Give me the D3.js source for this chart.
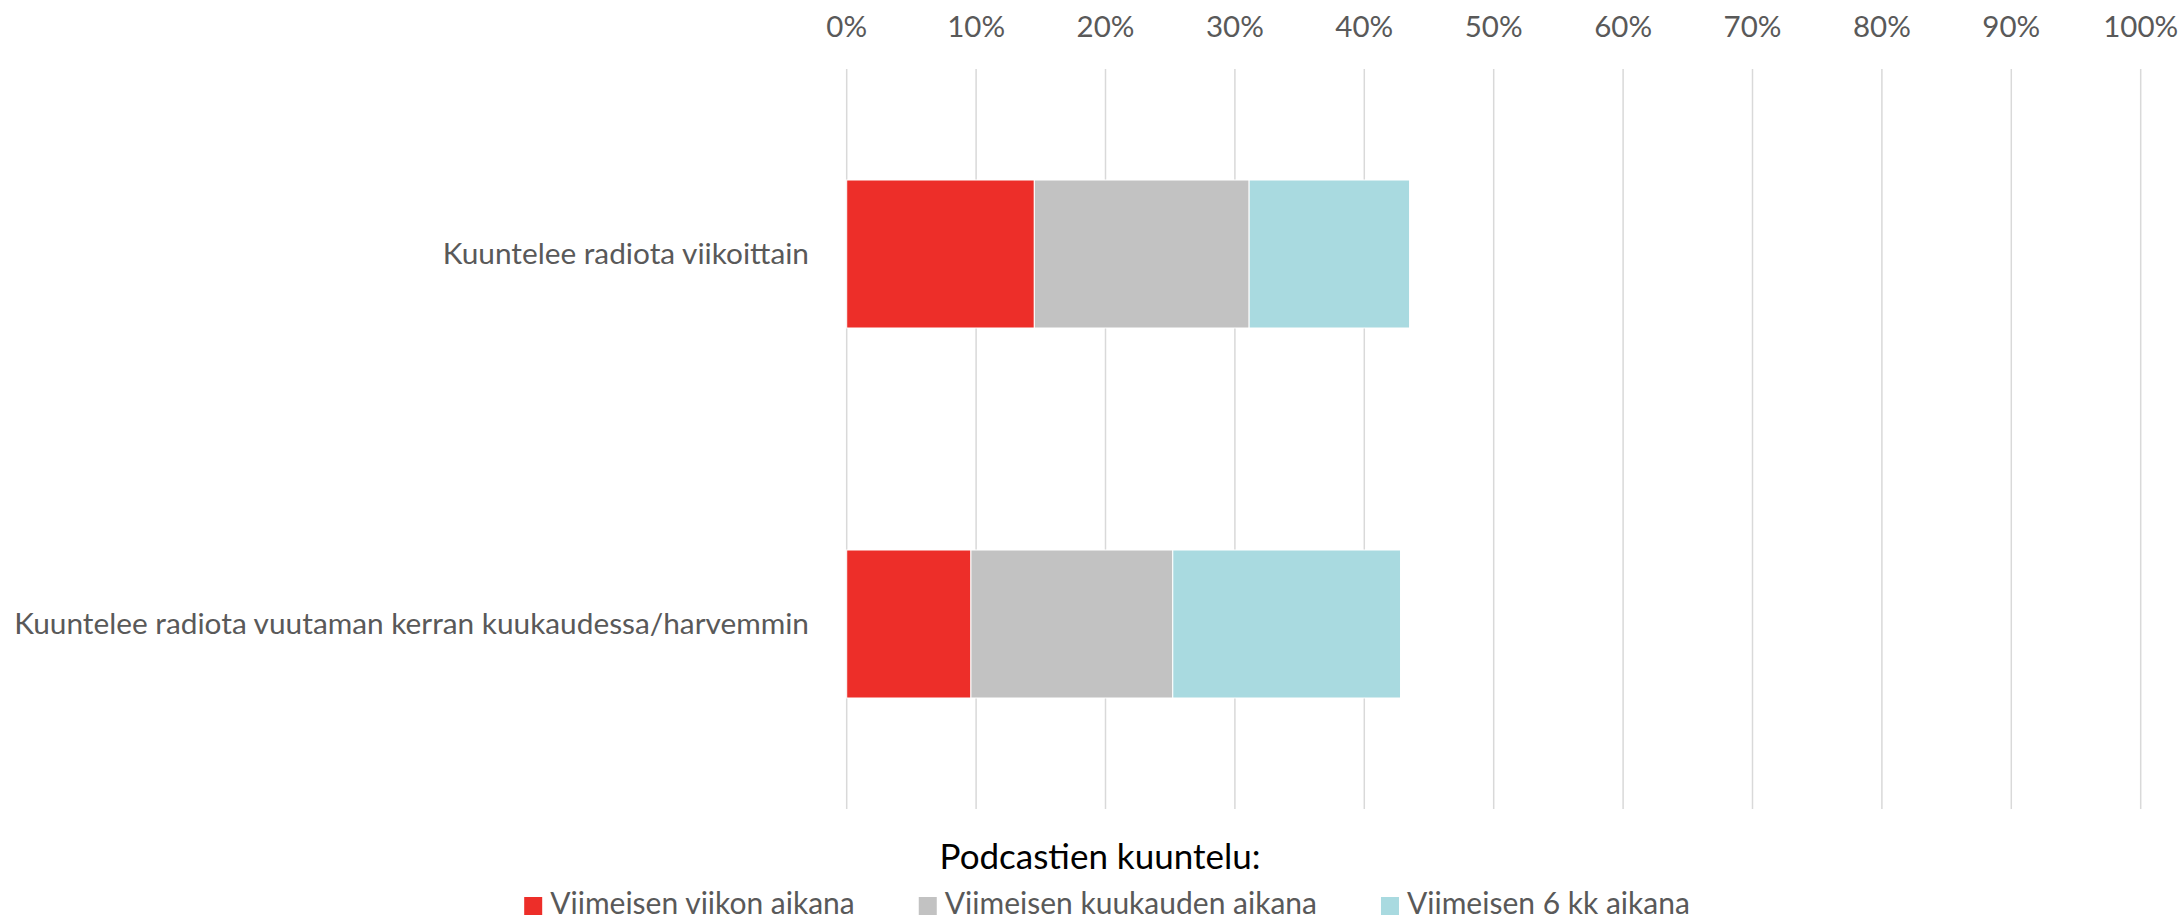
<!DOCTYPE html>
<html>
<head>
<meta charset="utf-8">
<script src="https://cdn.jsdelivr.net/npm/d3@7"></script>
<style>
  html, body { margin: 0; padding: 0; background: #fff; }
  svg { display: block; }
</style>
</head>
<body>
<div id="chart"></div>
<script>
// Data
const categories = [
    "Kuuntelee radiota viikoittain",
    "Kuuntelee radiota vuutaman kerran kuukaudessa/harvemmin"
];
const seriesNames = ["Viimeisen viikon aikana", "Viimeisen kuukauden aikana", "Viimeisen 6 kk aikana"];
const viikonAikana = [14.5, 9.6];
const kuukaudenAikana = [16.6, 15.6];
const kk6Aikana = [12.4, 17.6];
const tickValues = [0, 10, 20, 30, 40, 50, 60, 70, 80, 90, 100];
const legendTitle = "Podcastien kuuntelu:";

// Dimensions
const width = 2180;
const height = 920;
const font = "Lato, 'Open Sans', sans-serif";

const colors = d3.scaleOrdinal()
    .domain(seriesNames)
    .range(["#ed2e29", "#c2c2c2", "#a9dae0"]);

const rows = categories.map((c, i) => ({
    label: c,
    [seriesNames[0]]: viikonAikana[i],
    [seriesNames[1]]: kuukaudenAikana[i],
    [seriesNames[2]]: kk6Aikana[i]
}));

const stacked = d3.stack().keys(seriesNames)(rows);

const x = d3.scaleLinear()
    .domain([0, 100])
    .range([846.7, 2140.7]);

const y = d3.scaleBand()
    .domain(categories)
    .range([69, 809])
    .paddingInner(0.6)
    .paddingOuter(0.3);

const svg = d3.select("#chart")
    .append("svg")
    .attr("width", width)
    .attr("height", height);

// Gridlines
svg.append("g")
    .selectAll("line")
    .data(tickValues)
    .enter()
    .append("line")
    .attr("x1", d => x(d))
    .attr("x2", d => x(d))
    .attr("y1", 69)
    .attr("y2", 809)
    .attr("stroke", "#d9d9d9")
    .attr("stroke-width", 1.5);

// Tick labels on top
svg.append("g")
    .selectAll("text")
    .data(tickValues)
    .enter()
    .append("text")
    .attr("x", d => x(d))
    .attr("y", 37)
    .attr("text-anchor", "middle")
    .attr("font-family", font)
    .attr("font-size", "29.5px")
    .attr("fill", "#595959")
    .text(d => d + "%");

// Bars
const layers = svg.append("g")
    .selectAll("g")
    .data(stacked)
    .enter()
    .append("g")
    .attr("fill", d => colors(d.key));

layers.selectAll("rect")
    .data(d => d)
    .enter()
    .append("rect")
    .attr("x", d => x(d[0]))
    .attr("y", d => y(d.data.label))
    .attr("width", d => x(d[1]) - x(d[0]))
    .attr("height", y.bandwidth())
    .attr("stroke", "#ffffff")
    .attr("stroke-width", 1);

// Category labels
svg.append("g")
    .selectAll("text")
    .data(categories)
    .enter()
    .append("text")
    .attr("x", 809)
    .attr("y", d => y(d) + y.bandwidth() / 2)
    .attr("dy", "0.35em")
    .attr("text-anchor", "end")
    .attr("font-family", font)
    .attr("font-size", "29.8px")
    .attr("fill", "#595959")
    .text(d => d);

// Legend title
svg.append("text")
    .attr("x", 1100)
    .attr("y", 869)
    .attr("text-anchor", "middle")
    .attr("font-family", font)
    .attr("font-size", "35px")
    .attr("fill", "#000000")
    .text(legendTitle);

// Legend items
const legend = svg.append("g");
const items = legend.selectAll("g")
    .data(seriesNames)
    .enter()
    .append("g");

items.append("rect")
    .attr("y", 897)
    .attr("width", 18)
    .attr("height", 18)
    .attr("fill", d => colors(d));

items.append("text")
    .attr("x", 26)
    .attr("y", 914)
    .attr("font-family", font)
    .attr("font-size", "30px")
    .attr("fill", "#595959")
    .text(d => d);

let offset = 0;
items.each(function () {
    const w = d3.select(this).select("text").node().getComputedTextLength();
    d3.select(this).attr("transform", `translate(${offset},0)`);
    offset += 26 + w + 64;
});
const total = offset - 64;
legend.attr("transform", `translate(${1107 - total / 2},0)`);
</script>
</body>
</html>
